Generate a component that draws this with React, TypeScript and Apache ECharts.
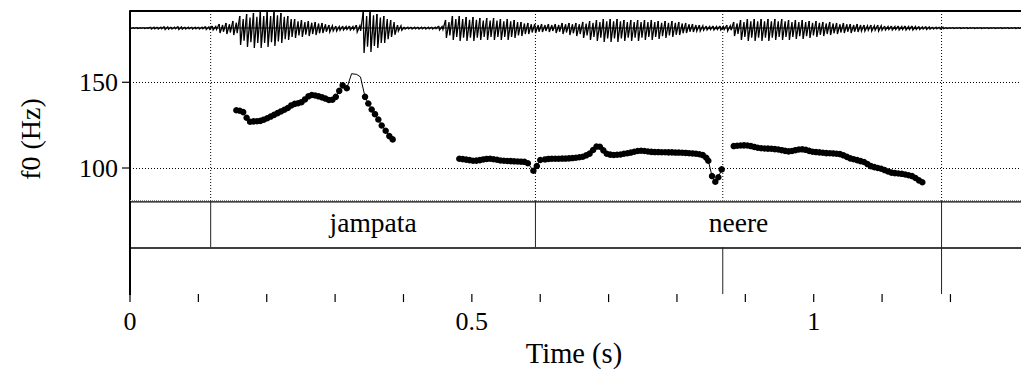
import React, { useEffect, useRef } from "react";
import * as echarts from "echarts";

// ---------- data ----------
const T_MAX = 1.2988; // seconds shown on the time axis
const WAVE_STEP = 0.01; // seconds between waveform envelope samples

// waveform envelope (upper / lower amplitude, arbitrary units), one value per WAVE_STEP from t = 0
const waveUpper = [
  0.5, 0.5, 0.5, 1, 1, 1.5, 1, 1.5, 1, 1,
  1, 1.5, 2, 4, 5, 7, 12, 14, 15, 16,
  16, 17, 15, 12, 9, 8, 7, 6, 5, 3,
  2, 2, 2, 3, 16, 17, 14, 12, 8, 3,
  1, 1, 1, 1, 1, 2, 8, 12, 12, 11,
  11, 10, 10, 10, 9, 9, 8, 6, 5, 4,
  4, 4, 4, 5, 5, 5, 6, 7, 8, 9,
  9, 9, 8, 8, 8, 8, 8, 7, 7, 7,
  6, 5, 4, 3, 2, 2, 2, 3, 6, 8,
  9, 9, 9, 9, 9, 9, 8, 8, 8, 7,
  7, 6, 6, 5, 5, 4, 4, 3, 3, 3,
  2, 2, 2, 2, 2, 1.5, 1.5, 1, 1, 0.5,
  0.5, 0.5, 0.5, 0.5, 0.5, 0.5, 0.5, 0.5, 0.5, 0.5,
];
const waveLower = [
  0.5, 0.5, 0.5, 1, 1, 1.5, 1, 1.5, 1, 1,
  1, 1.5, 2, 5, 6, 7, 17, 19, 20, 20,
  19, 18, 15, 12, 10, 9, 8, 7, 5, 4,
  3, 2, 2, 4, 25, 24, 20, 15, 9, 3,
  1, 1, 1, 1, 1, 2, 10, 12, 13, 13,
  13, 12, 12, 12, 12, 12, 10, 8, 6, 5,
  4, 4, 5, 6, 7, 8, 10, 12, 13, 14,
  14, 14, 13, 13, 13, 12, 12, 11, 10, 9,
  7, 5, 4, 3, 2, 2, 2, 3, 8, 12,
  13, 13, 13, 13, 12, 12, 12, 11, 11, 10,
  9, 8, 7, 6, 5, 5, 4, 3, 3, 3,
  2, 2, 2, 2, 2, 1.5, 1.5, 1, 1, 0.5,
  0.5, 0.5, 0.5, 0.5, 0.5, 0.5, 0.5, 0.5, 0.5, 0.5,
];

// f0 contour: [time (s), f0 (Hz), dot drawn (1) or not (0)]
const pitchSeg1 = [
  [0.155, 133.7, 1], [0.16, 133.4, 1], [0.165, 132.6, 1], [0.17, 129.3, 1], [0.175, 127.0, 1],
  [0.18, 127.2, 1], [0.185, 127.3, 1], [0.19, 127.5, 1], [0.195, 128.2, 1], [0.2, 129.0, 1],
  [0.205, 130.0, 1], [0.21, 131.0, 1], [0.215, 132.0, 1], [0.22, 133.0, 1], [0.225, 134.0, 1],
  [0.23, 135.0, 1], [0.235, 136.5, 1], [0.24, 137.4, 1], [0.245, 137.8, 1], [0.25, 138.4, 1],
  [0.255, 140.0, 1], [0.26, 141.8, 1], [0.265, 142.6, 1], [0.27, 142.3, 1], [0.275, 141.8, 1],
  [0.28, 141.2, 1], [0.285, 140.5, 1], [0.29, 139.7, 1], [0.295, 139.8, 1], [0.3, 141.5, 1],
  [0.305, 145.0, 1], [0.31, 148.2, 1], [0.316, 146.5, 1], [0.323, 155.0, 0], [0.3305, 154.6, 0],
  [0.336, 153.1, 0], [0.3426, 141.5, 1], [0.3474, 137.6, 1], [0.3523, 134.1, 1], [0.3571, 131.4, 1],
  [0.362, 128.3, 1], [0.3669, 124.8, 1], [0.3727, 121.7, 1], [0.378, 118.6, 1], [0.3829, 116.7, 1],
];
const pitchSeg2 = [
  [0.48, 105.4, 1], [0.485, 105.2, 1], [0.49, 104.9, 1], [0.495, 104.6, 1], [0.5, 104.2, 1],
  [0.505, 104.3, 1], [0.51, 104.6, 1], [0.515, 105.0, 1], [0.52, 105.3, 1], [0.525, 105.4, 1],
  [0.53, 105.1, 1], [0.535, 104.8, 1], [0.54, 104.4, 1], [0.545, 104.2, 1], [0.55, 104.1, 1],
  [0.555, 104.0, 1], [0.56, 103.9, 1], [0.565, 103.8, 1], [0.57, 103.7, 1], [0.575, 103.6, 1],
  [0.58, 102.8, 1], [0.588, 98.4, 1], [0.593, 101.2, 1], [0.598, 104.7, 1], [0.605, 105.0, 1],
  [0.61, 105.3, 1], [0.615, 105.4, 1], [0.62, 105.4, 1], [0.625, 105.4, 1], [0.63, 105.5, 1],
  [0.635, 105.5, 1], [0.64, 105.6, 1], [0.645, 105.8, 1], [0.65, 106.0, 1], [0.655, 106.3, 1],
  [0.66, 106.6, 1], [0.665, 107.4, 1], [0.67, 108.4, 1], [0.675, 110.5, 1], [0.68, 112.5, 1],
  [0.685, 112.4, 1], [0.69, 110.3, 1], [0.695, 108.3, 1], [0.7, 107.8, 1], [0.705, 107.6, 1],
  [0.71, 107.7, 1], [0.715, 107.9, 1], [0.72, 108.3, 1], [0.725, 108.6, 1], [0.73, 109.0, 1],
  [0.735, 109.5, 1], [0.74, 109.9, 1], [0.745, 110.1, 1], [0.75, 109.9, 1], [0.755, 109.6, 1],
  [0.76, 109.4, 1], [0.765, 109.3, 1], [0.77, 109.3, 1], [0.775, 109.2, 1], [0.78, 109.2, 1],
  [0.785, 109.1, 1], [0.79, 109.1, 1], [0.795, 109.0, 1], [0.8, 109.0, 1], [0.805, 108.9, 1],
  [0.81, 108.8, 1], [0.815, 108.6, 1], [0.82, 108.5, 1], [0.825, 108.3, 1], [0.83, 108.0, 1],
  [0.835, 107.5, 1], [0.84, 106.0, 1], [0.843, 104.2, 1], [0.8484, 95.3, 1], [0.8532, 92.0, 1],
  [0.8576, 94.6, 1], [0.8625, 99.2, 1],
];
const pitchSeg3 = [
  [0.88, 112.8, 1], [0.885, 113.0, 1], [0.89, 113.1, 1], [0.895, 113.2, 1], [0.9, 113.1, 1],
  [0.905, 112.8, 1], [0.91, 112.3, 1], [0.915, 111.8, 1], [0.92, 111.5, 1], [0.925, 111.4, 1],
  [0.93, 111.3, 1], [0.935, 111.2, 1], [0.94, 111.0, 1], [0.945, 110.8, 1], [0.95, 110.4, 1],
  [0.955, 110.0, 1], [0.96, 109.7, 1], [0.965, 109.9, 1], [0.97, 110.4, 1], [0.975, 110.8, 1],
  [0.98, 110.9, 1], [0.985, 110.6, 1], [0.99, 110.0, 1], [0.995, 109.5, 1], [1.0, 109.3, 1],
  [1.005, 109.1, 1], [1.01, 108.9, 1], [1.015, 108.7, 1], [1.02, 108.6, 1], [1.025, 108.5, 1],
  [1.03, 108.3, 1], [1.035, 108.1, 1], [1.04, 107.4, 1], [1.045, 106.5, 1], [1.05, 105.6, 1],
  [1.055, 105.1, 1], [1.06, 104.6, 1], [1.065, 104.0, 1], [1.07, 103.5, 1], [1.075, 102.3, 1],
  [1.08, 101.1, 1], [1.085, 100.5, 1], [1.09, 100.0, 1], [1.095, 99.6, 1], [1.1, 98.8, 1],
  [1.105, 98.0, 1], [1.11, 97.3, 1], [1.115, 97.0, 1], [1.12, 96.8, 1], [1.125, 96.6, 1],
  [1.13, 96.2, 1], [1.135, 95.8, 1], [1.14, 95.3, 1], [1.145, 94.2, 1], [1.15, 92.8, 1],
  [1.155, 91.7, 1],
];

// axes
const f0Min = 80;
const f0Max = 190;
const f0Ticks = [100, 150];
const timeTicks = [0, 0.1, 0.2, 0.3, 0.4, 0.5, 0.6, 0.7, 0.8, 0.9, 1.0, 1.1, 1.2];
const timeLabels = [0, 0.5, 1];

// text grid tiers
const tier1Bounds = [0.118, 0.593, 1.187];
const tier1Intervals = [
  { start: 0.118, end: 0.593, text: "jampata" },
  { start: 0.593, end: 1.187, text: "neere" },
];
const tier2Bounds = [0.867, 1.187];

// ---------- layout ----------
const FONT = '"Liberation Serif", "Times New Roman", serif';
const L = 130;
const TOP = 11;
const W = 891;
// offsets (px from TOP) inside the frame grid
const TIER1_TOP = 190;
const TIER2_TOP = 237;
const TIER_BOTTOM = 284;
const TICK_LEN = 8;

export default function App() {
  const ref = useRef<HTMLDivElement>(null);

  useEffect(() => {
    if (!ref.current) return;
    const chart = echarts.init(ref.current, null, { renderer: "svg" });

    const toPitchData = (seg: number[][]) =>
      seg.map((p) => (p[2] ? [p[0], p[1]] : { value: [p[0], p[1]], symbol: "none" }));

    const allBounds = Array.from(new Set([...tier1Bounds, ...tier2Bounds])).sort((a, b) => a - b);

    const vline = (style: any) => (params: any, api: any) => {
      const x = api.coord([api.value(0), 0])[0];
      const y0 = api.coord([0, api.value(1)])[1];
      const y1 = api.coord([0, api.value(2)])[1];
      return { type: "line", shape: { x1: x, y1: y0, x2: x, y2: y1 }, style };
    };

    const pitchSeries = [pitchSeg1, pitchSeg2, pitchSeg3].map((seg, i) => ({
      type: "line",
      xAxisIndex: 2,
      yAxisIndex: 2,
      data: toPitchData(seg),
      symbol: "circle",
      symbolSize: 6.5,
      showSymbol: true,
      itemStyle: { color: "#000" },
      lineStyle: { color: "#000", width: 1 },
      z: 5,
      markLine:
        i === 0
          ? {
              silent: true,
              symbol: "none",
              label: { show: false },
              lineStyle: { color: "#000", type: [1, 2], width: 1 },
              data: f0Ticks.map((v) => ({ yAxis: v })),
            }
          : undefined,
    }));

    const option: any = {
      animation: false,
      grid: [
        { left: L, top: TOP, width: W, height: TIER_BOTTOM },
        { left: L, top: TOP, width: W, height: 34 },
        { left: L, top: 13.7, width: W, height: 188.6 },
      ],
      xAxis: [
        {
          gridIndex: 0,
          type: "value",
          min: 0,
          max: T_MAX,
          interval: 0.1,
          axisLine: { show: true, lineStyle: { color: "#000", width: 2 } },
          axisTick: { show: false },
          axisLabel: {
            show: true,
            margin: 14,
            color: "#000",
            fontFamily: FONT,
            fontSize: 26,
            formatter: (v: number) => {
              const r = Math.round(v * 10);
              return timeLabels.some((x) => Math.round(x * 10) === r) ? String(r / 10) : "";
            },
          },
          splitLine: { show: false },
          name: "Time (s)",
          nameLocation: "middle",
          nameGap: 44,
          nameTextStyle: { color: "#000", fontFamily: FONT, fontSize: 28.5 },
        },
        { gridIndex: 1, type: "value", min: 0, max: T_MAX, show: false },
        { gridIndex: 2, type: "value", min: 0, max: T_MAX, show: false },
      ],
      yAxis: [
        { gridIndex: 0, type: "value", min: 0, max: TIER_BOTTOM, inverse: true, show: false },
        { gridIndex: 1, type: "value", min: -17, max: 17, show: false },
        {
          gridIndex: 2,
          type: "value",
          min: f0Min,
          max: f0Max,
          axisLine: { show: false },
          axisTick: { show: false },
          axisLabel: {
            show: true,
            customValues: f0Ticks,
            margin: 12,
            color: "#000",
            fontFamily: FONT,
            fontSize: 26,
          },
          splitLine: { show: false },
        },
      ],
      graphic: [
        { type: "line", shape: { x1: L, y1: TOP, x2: L + W, y2: TOP }, style: { stroke: "#000", lineWidth: 2 } },
        { type: "line", shape: { x1: L, y1: TOP, x2: L, y2: TOP + TIER_BOTTOM }, style: { stroke: "#000", lineWidth: 2 } },
        { type: "line", shape: { x1: L, y1: TOP + TIER1_TOP - 0.5, x2: L + W, y2: TOP + TIER1_TOP - 0.5 }, style: { stroke: "#888", lineWidth: 1, lineDash: [1, 1] } },
        { type: "line", shape: { x1: L, y1: TOP + TIER1_TOP + 0.8, x2: L + W, y2: TOP + TIER1_TOP + 0.8 }, style: { stroke: "#000", lineWidth: 1.2 } },
        { type: "line", shape: { x1: L, y1: TOP + TIER2_TOP, x2: L + W, y2: TOP + TIER2_TOP }, style: { stroke: "#000", lineWidth: 1.5 } },
        {
          type: "text",
          x: 30,
          y: 139,
          rotation: Math.PI / 2,
          style: { text: "f0 (Hz)", fill: "#000", font: `28px ${FONT}`, align: "center", verticalAlign: "middle" },
        },
      ],
      series: [
        // waveform zero line
        {
          type: "line",
          xAxisIndex: 1,
          yAxisIndex: 1,
          data: [[0, 0], [T_MAX, 0]],
          symbol: "none",
          lineStyle: { color: "#000", width: 1 },
          silent: true,
        },
        // waveform (drawn from its envelope samples)
        {
          type: "custom",
          xAxisIndex: 1,
          yAxisIndex: 1,
          data: waveUpper.map((u, i) => [i * WAVE_STEP, u, -waveLower[i]]),
          renderItem: (params: any, api: any) => {
            const i = params.dataIndex;
            const s = WAVE_STEP;
            const t = api.value(0);
            const u = api.value(1);
            const l = api.value(2);
            const un = i + 1 < waveUpper.length ? waveUpper[i + 1] : u;
            const pts = [
              api.coord([t, u]),
              api.coord([t + s * 0.12, l]),
              api.coord([t + s * 0.5, u * 0.75]),
              api.coord([t + s * 0.62, l * 0.75]),
              api.coord([t + s, un]),
            ];
            return {
              type: "polyline",
              shape: { points: pts },
              style: { stroke: "#000", lineWidth: 1.3, fill: "none" },
            };
          },
          silent: true,
        },
        // dotted boundary lines through the waveform / f0 panel
        {
          type: "custom",
          xAxisIndex: 0,
          yAxisIndex: 0,
          data: allBounds.map((t) => [t, 0, TIER1_TOP]),
          renderItem: vline({ stroke: "#000", lineWidth: 1, lineDash: [1, 2] }),
          silent: true,
          z: 1,
        },
        // tier 1 boundaries
        {
          type: "custom",
          xAxisIndex: 0,
          yAxisIndex: 0,
          data: tier1Bounds.map((t) => [t, TIER1_TOP, TIER2_TOP]),
          renderItem: vline({ stroke: "#222", lineWidth: 1 }),
          silent: true,
        },
        // tier 2 boundaries
        {
          type: "custom",
          xAxisIndex: 0,
          yAxisIndex: 0,
          data: tier2Bounds.map((t) => [t, TIER2_TOP, TIER_BOTTOM]),
          renderItem: vline({ stroke: "#222", lineWidth: 1 }),
          silent: true,
        },
        // time axis ticks
        {
          type: "custom",
          xAxisIndex: 0,
          yAxisIndex: 0,
          data: timeTicks.map((t) => [t, TIER_BOTTOM, TIER_BOTTOM + TICK_LEN]),
          renderItem: vline({ stroke: "#000", lineWidth: 1.2 }),
          silent: true,
        },
        // f0 axis ticks
        {
          type: "custom",
          xAxisIndex: 2,
          yAxisIndex: 2,
          data: f0Ticks.map((v) => [0, v]),
          renderItem: (params: any, api: any) => {
            const p = api.coord([api.value(0), api.value(1)]);
            return {
              type: "line",
              shape: { x1: p[0] - TICK_LEN, y1: p[1], x2: p[0], y2: p[1] },
              style: { stroke: "#000", lineWidth: 1.2 },
            };
          },
          silent: true,
        },
        // tier 1 labels
        {
          type: "custom",
          xAxisIndex: 0,
          yAxisIndex: 0,
          data: tier1Intervals.map((iv) => [(iv.start + iv.end) / 2, (TIER1_TOP + TIER2_TOP) / 2 - 1.5]),
          renderItem: (params: any, api: any) => {
            const p = api.coord([api.value(0), api.value(1)]);
            return {
              type: "text",
              x: p[0],
              y: p[1],
              style: {
                text: tier1Intervals[params.dataIndex].text,
                fill: "#000",
                font: `27.5px ${FONT}`,
                align: "center",
                verticalAlign: "middle",
              },
            };
          },
          silent: true,
        },
        ...pitchSeries,
      ],
    };

    chart.setOption(option);
    return () => chart.dispose();
  }, []);

  return (
    <div
      ref={ref}
      style={{ position: "absolute", left: 0, top: 0, width: 1021, height: 373, background: "#fff" }}
    />
  );
}
